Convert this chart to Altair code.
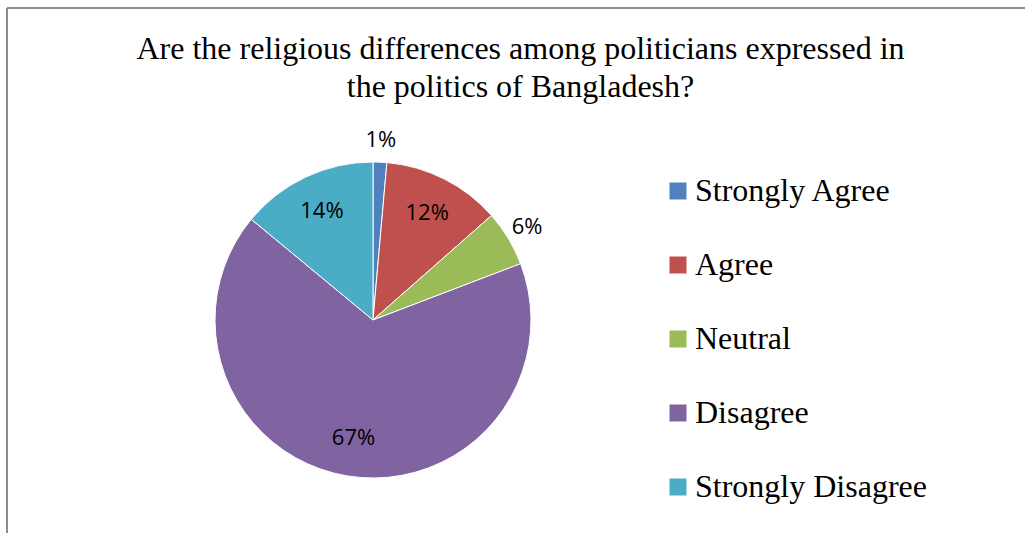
import altair as alt
import pandas as pd

categories = ["Strongly Agree", "Agree", "Neutral", "Disagree", "Strongly Disagree"]
shares = [1.4, 12.1, 5.7, 66.8, 14.0]
labels = ["1%", "12%", "6%", "67%", "14%"]
colors = ["#4F81BD", "#C0504D", "#9BBB59", "#8064A2", "#4BACC6"]
title_lines = ["Are the religious differences among politicians expressed in",
               "the politics of Bangladesh?"]

df = pd.DataFrame({
    "category": categories,
    "value": shares,
    "label": labels,
    "idx": list(range(len(categories))),
})
TOTAL = float(sum(shares))

CX, CY, R = 373, 320, 158
R_IN, R_OUT = 120, 180

base = alt.Chart(df).transform_window(
    cum="sum(value)", sort=[alt.SortField("idx")], frame=[None, 0]
).transform_calculate(
    start="datum.cum - datum.value",
    mid="datum.cum - datum.value / 2",
    r=f"datum.value < 10 ? {R_OUT} : {R_IN}",
)

theta_scale = alt.Scale(domain=[0, TOTAL])

color_enc = alt.Color(
    "category:N",
    sort=categories,
    scale=alt.Scale(domain=categories, range=colors),
    legend=alt.Legend(
        title=None,
        orient="none",
        legendX=662,
        legendY=175,
        symbolType="square",
        symbolSize=289,
        symbolStrokeWidth=0,
        labelFont="Liberation Serif",
        labelFontSize=32,
        labelColor="#000000",
        labelOffset=1,
        rowPadding=42,
        padding=0,
        labelLimit=400,
    ),
)

arcs = base.mark_arc(outerRadius=R, stroke="white", strokeWidth=1).encode(
    theta=alt.Theta("start:Q", scale=theta_scale),
    theta2="cum:Q",
    color=color_enc,
    x=alt.value(CX),
    y=alt.value(CY),
)

text = base.mark_text(font="Open Sans", fontSize=22, color="#000000",
                      align="center", baseline="middle").encode(
    theta=alt.Theta("mid:Q", scale=theta_scale),
    radius=alt.Radius("r:Q", scale=None),
    text="label:N",
    x=alt.value(CX),
    y=alt.value(CY),
)

frame_df = pd.DataFrame({"a": [0]})
left_rule = alt.Chart(frame_df).mark_rule(color="#8c8c8c", strokeWidth=2).encode(
    x=alt.value(7), y=alt.value(8), y2=alt.value(533))
top_rule = alt.Chart(frame_df).mark_rule(color="#8c8c8c", strokeWidth=2).encode(
    x=alt.value(7), x2=alt.value(1025), y=alt.value(8))

chart = alt.layer(left_rule, top_rule, arcs, text).properties(
    width=1025,
    height=533,
    padding=0,
    autosize=alt.AutoSizeParams(type="none"),
    title=alt.TitleParams(
        text=title_lines,
        font="Liberation Serif",
        fontSize=32,
        fontWeight="normal",
        color="#000000",
        anchor="middle",
        frame="group",
        offset=-104,
        lineHeight=38,
        dx=8,
    ),
).configure_view(stroke=None)

chart.save("out.html", embed_options={"renderer": "svg", "actions": False})
